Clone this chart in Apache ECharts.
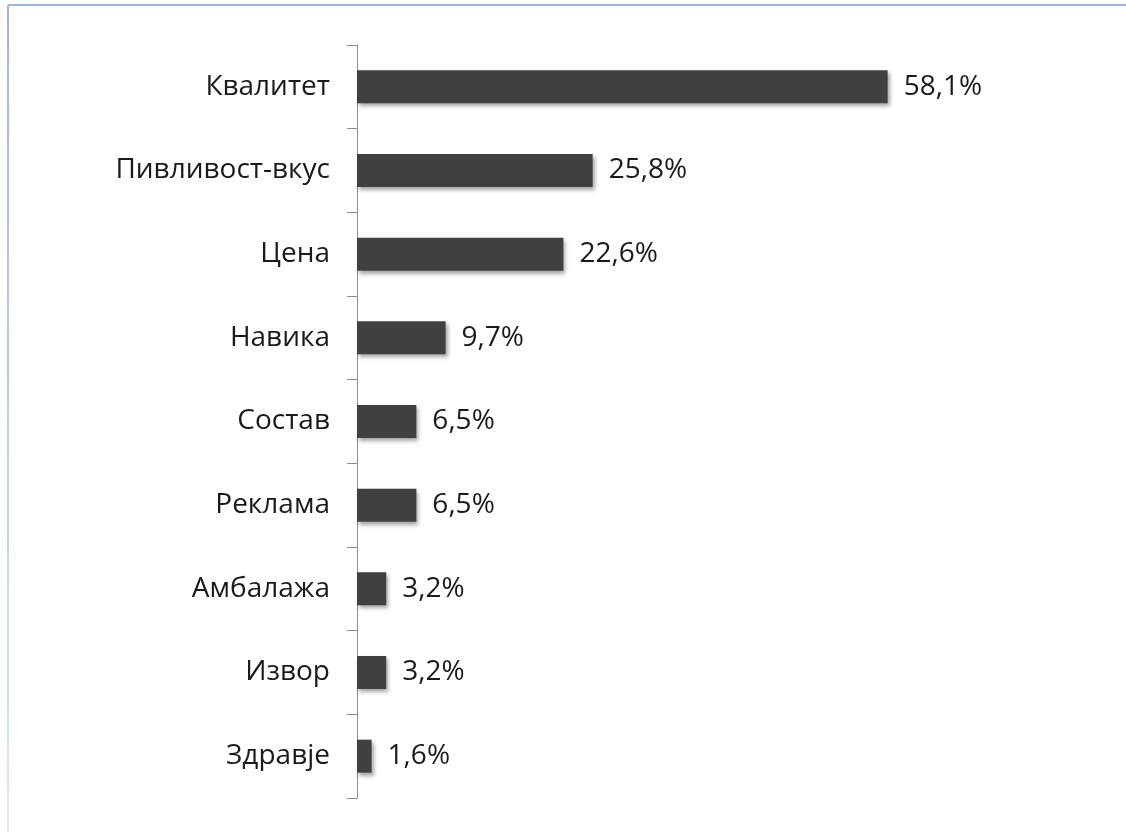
<!DOCTYPE html>
<html>
<head>
<meta charset="utf-8">
<script src="https://cdn.jsdelivr.net/npm/echarts@6/dist/echarts.min.js"></script>
<style>
  html, body { margin: 0; padding: 0; background: #fff; }
  #chart { width: 1126px; height: 832px; }
</style>
</head>
<body>
<div id="chart"></div>
<script>
// Reasons for choosing a beer, share of respondents (%)
const categories = ['Квалитет', 'Пивливост-вкус', 'Цена', 'Навика', 'Состав', 'Реклама', 'Амбалажа', 'Извор', 'Здравје'];
const values = [58.1, 25.8, 22.6, 9.7, 6.5, 6.5, 3.2, 3.2, 1.6];

const chart = echarts.init(document.getElementById('chart'));

const fmt = v => v.toFixed(1).replace('.', ',') + '%';

chart.setOption({
  animation: false,
  backgroundColor: '#ffffff',
  textStyle: { fontFamily: 'Open Sans' },
  graphic: [
    { type: 'line', shape: { x1: 8, y1: 5, x2: 1126, y2: 5 }, style: { stroke: '#9db5e2', lineWidth: 2 } },
    { type: 'line', shape: { x1: 8, y1: 5, x2: 8, y2: 832 },
      style: { stroke: new echarts.graphic.LinearGradient(0, 0, 0, 1, [
        { offset: 0, color: '#9db5e2' }, { offset: 1, color: '#dfe7f6' }]), lineWidth: 2 } }
  ],
  grid: { left: 357, top: 45, width: 548, height: 753, containLabel: false },
  xAxis: {
    type: 'value', min: 0, max: 60, show: false
  },
  yAxis: {
    type: 'category',
    data: categories,
    inverse: true,
    axisLine: { show: true, lineStyle: { color: '#8c8c8c', width: 1 } },
    axisTick: { show: true, length: 10, lineStyle: { color: '#8c8c8c' } },
    axisLabel: { margin: 27, color: '#1a1a1a', fontSize: 28, fontFamily: 'Open Sans' },
    splitLine: { show: false }
  },
  series: [{
    type: 'bar',
    data: values,
    barWidth: 33,
    itemStyle: {
      color: '#404040',
      shadowColor: 'rgba(0,0,0,0.35)',
      shadowBlur: 4,
      shadowOffsetX: 2,
      shadowOffsetY: 3
    },
    label: {
      show: true,
      position: 'right',
      distance: 16,
      color: '#1a1a1a',
      fontSize: 28,
      fontFamily: 'Open Sans',
      formatter: p => fmt(p.value)
    }
  }]
});
</script>
</body>
</html>
